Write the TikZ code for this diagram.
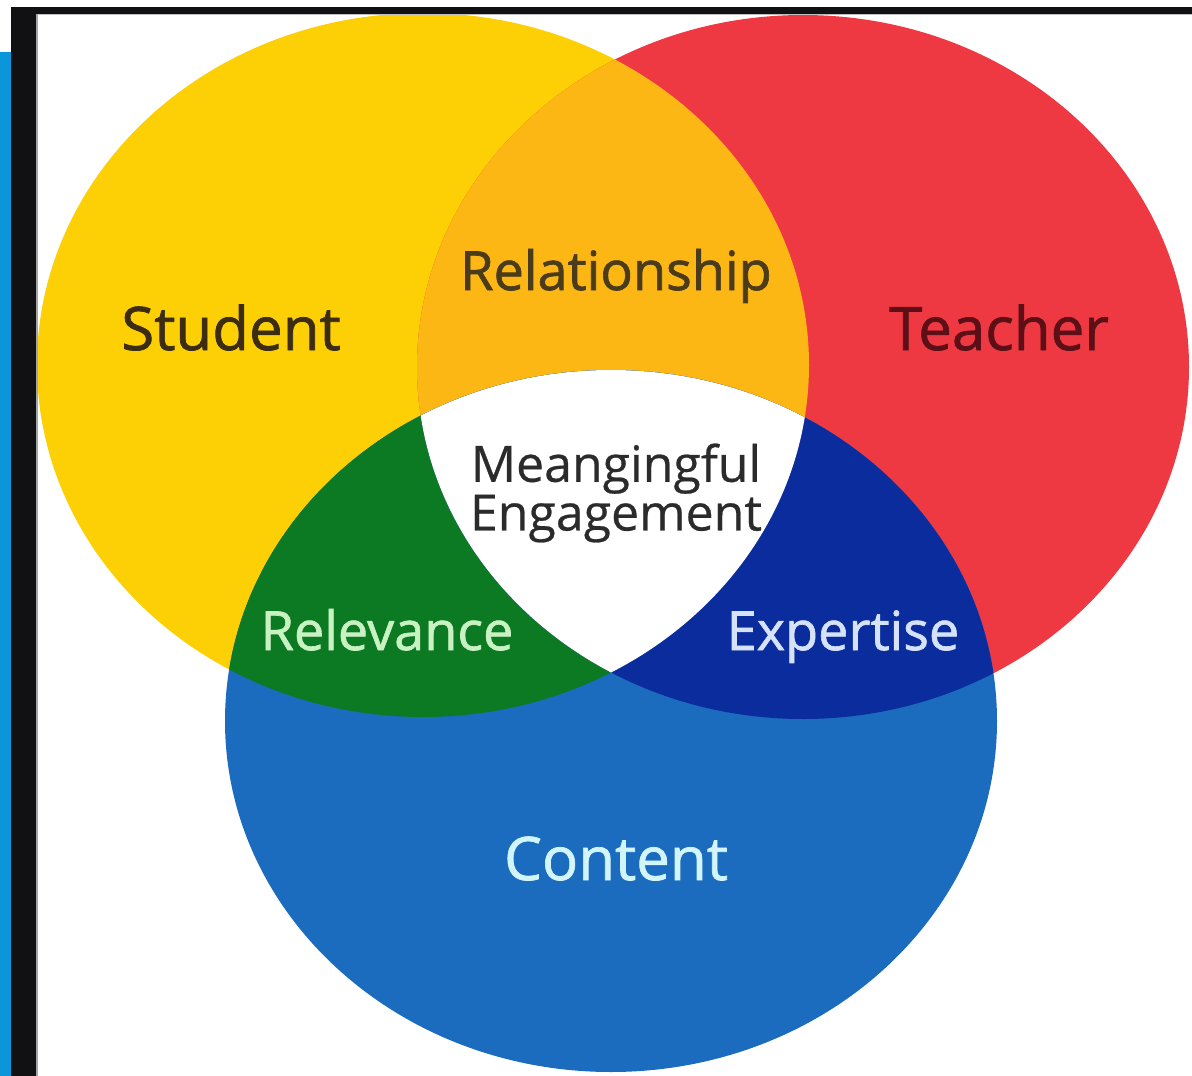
\documentclass[tikz,border=0pt]{standalone}
\usepackage{fontspec}
\setmainfont{Open Sans}
\newfontfamily\semif[FakeBold=1.2]{Open Sans}
\newfontfamily\medf[FakeBold=0.5]{Open Sans}
\definecolor{cyel}{HTML}{FDD005}
\definecolor{cora}{HTML}{FDB714}
\definecolor{cred}{HTML}{EE3842}
\definecolor{cgrn}{HTML}{0B7A22}
\definecolor{cdbl}{HTML}{0A2C9C}
\definecolor{cblu}{HTML}{1B6BBF}
\definecolor{cbar}{HTML}{0B96DC}
\definecolor{cfrm}{HTML}{111114}
\definecolor{tstu}{HTML}{3B2C12}
\definecolor{trel}{HTML}{4A3B1A}
\definecolor{ttea}{HTML}{5C0F16}
\definecolor{tmea}{HTML}{2B2B2B}
\definecolor{trlv}{HTML}{C9F2C3}
\definecolor{texp}{HTML}{D5E2FA}
\definecolor{tcon}{HTML}{D2F5FA}
\tikzset{
  lbl/.style={anchor=base, inner sep=0pt},
  big/.style={font=\semif\fontsize{60}{70}\selectfont},
  mid/.style={font=\semif\fontsize{54}{64}\selectfont},
  sml/.style={font=\medf\fontsize{50}{42}\selectfont, align=center, inner sep=0pt},
}
\begin{document}
\begin{tikzpicture}[x=1pt,y=-1pt]
\useasboundingbox (0,0) rectangle (1192,1076);
\fill[white] (0,0) rectangle (1192,1076);
\begin{scope}
  \clip (37,14) rectangle (1192,1076);
  % base circles
  \fill[cyel] (423,365) ellipse [x radius=386, y radius=352];
  \fill[cred] (803,367) ellipse [x radius=386, y radius=352];
  \fill[cblu] (611,721) ellipse [x radius=386, y radius=351];
  % yellow and red
  \begin{scope}
    \clip (423,365) ellipse [x radius=386, y radius=352];
    \fill[cora] (803,367) ellipse [x radius=386, y radius=352];
  \end{scope}
  % yellow and blue
  \begin{scope}
    \clip (423,365) ellipse [x radius=386, y radius=352];
    \fill[cgrn] (611,721) ellipse [x radius=386, y radius=351];
  \end{scope}
  % red and blue
  \begin{scope}
    \clip (803,367) ellipse [x radius=386, y radius=352];
    \fill[cdbl] (611,721) ellipse [x radius=386, y radius=351];
  \end{scope}
  % all three
  \begin{scope}
    \clip (423,365) ellipse [x radius=386, y radius=352];
    \clip (803,367) ellipse [x radius=386, y radius=352];
    \fill[white] (611,721) ellipse [x radius=386, y radius=351];
  \end{scope}
\end{scope}
% frame
\fill[cfrm] (11,7) rectangle (1192,14);
\fill[cfrm] (11,7) rectangle (36,1076);
\fill[black!35] (36,14) rectangle (37.5,1076);
\fill[black!25] (37.5,14) rectangle (1192,15);
\fill[cbar] (0,52) rectangle (11,1076);
% labels
\node[lbl, big, text=tstu] (student) at (231,350) {Student};
\node[lbl, mid, text=trel] (relationship) at (616,290) {Relationship};
\node[lbl, big, text=ttea] (teacher) at (999,350) {Teacher};
\node[sml, text=tmea, anchor=center] (meaning) at (616,493) {Meangingful\\Engagement};
\node[lbl, mid, text=trlv] (relevance) at (387,650) {Relevance};
\node[lbl, mid, text=texp] (expertise) at (843,650) {Expertise};
\node[lbl, big, text=tcon] (content) at (616,880) {Content};
\end{tikzpicture}
\end{document}
